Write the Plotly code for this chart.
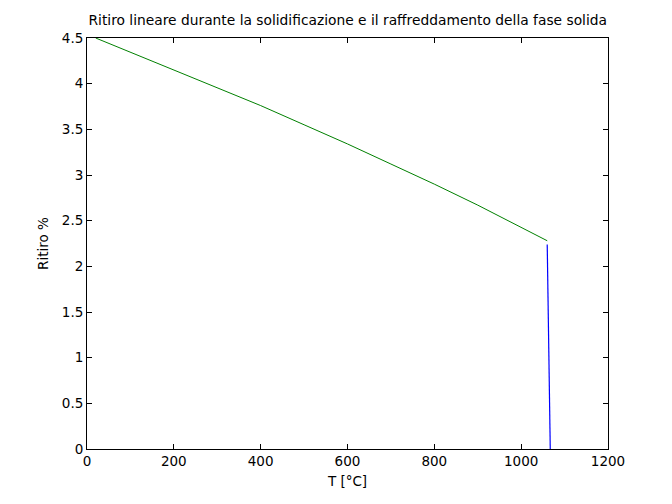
import plotly.graph_objects as go

# Solid-phase cooling (green)
T_solid = [20, 100, 200, 300, 400, 500, 600, 700, 800, 900, 1000, 1060]
ritiro_solid = [4.50, 4.345, 4.15, 3.955, 3.76, 3.55, 3.34, 3.12, 2.90, 2.67, 2.43, 2.28]

# Solidification (blue)
T_solidif = [1060, 1061, 1063, 1066, 1067]
ritiro_solidif = [2.24, 1.86, 1.17, 0.34, 0.0]

x_ticks = [0, 200, 400, 600, 800, 1000, 1200]
y_ticks = [0, 0.5, 1, 1.5, 2, 2.5, 3, 3.5, 4, 4.5]
y_tick_labels = ["0", "0.5", "1", "1.5", "2", "2.5", "3", "3.5", "4", "4.5"]

font = dict(family="DejaVu Sans, Arial, sans-serif", size=13.5, color="black")
title_font = dict(family="DejaVu Sans, Arial, sans-serif", size=13.8, color="black")

fig = go.Figure()
fig.add_trace(go.Scatter(x=T_solid, y=ritiro_solid, mode="lines",
                         line=dict(color="#008000", width=1), showlegend=False))
fig.add_trace(go.Scatter(x=T_solidif, y=ritiro_solidif, mode="lines",
                         line=dict(color="#0000ff", width=1.2), showlegend=False))

axis_common = dict(showgrid=False, zeroline=False, showline=True, linecolor="black",
                   linewidth=1, mirror="ticks", ticks="inside", ticklen=5,
                   tickcolor="black", tickfont=font)

fig.update_layout(
    width=672, height=504,
    margin=dict(l=87, r=64, t=38, b=55, autoexpand=False),
    paper_bgcolor="white", plot_bgcolor="white",
    font=font,
    title=dict(text="Ritiro lineare durante la solidificazione e il raffreddamento della fase solida",
               x=0.5175, xanchor="center", y=0.96, yanchor="middle", font=title_font),
    xaxis=dict(range=[0, 1200], tickvals=x_ticks, ticktext=[str(v) for v in x_ticks],
               title=dict(text="T [°C]", font=font, standoff=8), **axis_common),
    yaxis=dict(range=[0, 4.5], tickvals=y_ticks, ticktext=y_tick_labels,
               title=dict(text="Ritiro %", font=font, standoff=10), **axis_common),
)

fig.write_html("out.html", config={"displayModeBar": False},
               post_script="document.body.style.margin='0';")
